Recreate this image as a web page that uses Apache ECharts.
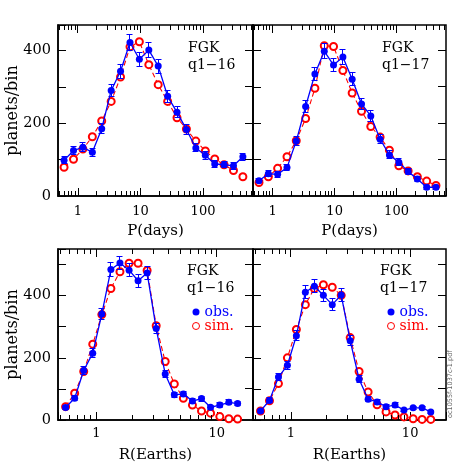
<!DOCTYPE html>
<html>
<head>
<meta charset="utf-8">
<script src="https://cdn.jsdelivr.net/npm/echarts@6/dist/echarts.min.js"></script>
<style>
html, body { margin: 0; padding: 0; background: #fff; }
#chart { width: 471px; height: 471px; }
</style>
</head>
<body>
<div id="chart"></div>
<script>
// bin centres
const periodBins = [0.6, 0.85, 1.2, 1.7, 2.4, 3.4, 4.8, 6.8, 9.6, 13.6, 19.2, 27.2, 38.4, 54.3, 76.8, 109, 154, 217, 307, 434];
const radiusBins = [0.555, 0.66, 0.785, 0.933, 1.11, 1.32, 1.57, 1.87, 2.22, 2.64, 3.14, 3.73, 4.44, 5.28, 6.28, 7.47, 8.88, 10.6, 12.6, 14.9];

// P, q1-16
const obsP16 = [98, 125, 134, 120, 185, 290, 343, 422, 376, 401, 357, 274, 230, 183, 132, 112, 88, 86, 83, 108];
const errP16 = [10, 11, 12, 11, 14, 17, 19, 21, 19, 20, 19, 17, 15, 14, 11, 11, 9, 9, 9, 10];
const simP16 = [79, 101, 129, 163, 206, 260, 327, 410, 424, 361, 306, 260, 215, 184, 151, 124, 102, 86, 70, 53];
// P, q1-17
const obsP17 = [42, 61, 60, 78, 151, 246, 335, 398, 360, 382, 321, 253, 220, 156, 113, 93, 67, 47, 24, 24];
const errP17 = [6, 8, 8, 9, 12, 16, 18, 20, 19, 20, 18, 16, 15, 12, 11, 10, 8, 7, 5, 5];
const simP17 = [37, 53, 76, 108, 152, 213, 296, 413, 411, 345, 283, 233, 191, 162, 126, 83, 69, 53, 41, 29];
// R, q1-16
const obsR16 = [40, 70, 159, 215, 341, 484, 505, 482, 448, 473, 294, 148, 81, 84, 61, 69, 41, 48, 57, 53];
const errR16 = [6, 8, 13, 15, 18, 22, 22, 22, 21, 22, 17, 12, 9, 9, 8, 8, 6, 7, 8, 7];
const simR16 = [43, 86, 156, 244, 339, 423, 477, 504, 504, 481, 303, 188, 116, 70, 48, 29, 22, 11, 4, 3];
// R, q1-17
const obsR17 = [29, 63, 138, 176, 271, 411, 430, 401, 371, 402, 255, 131, 67, 58, 43, 48, 32, 39, 39, 26];
const errR17 = [5, 8, 12, 13, 16, 20, 21, 20, 19, 20, 16, 11, 8, 8, 7, 7, 6, 6, 6, 5];
const simR17 = [29, 62, 117, 200, 291, 371, 423, 435, 427, 401, 265, 156, 90, 49, 26, 16, 10, 4, 2, 2];

// tick values
const periodMajor = [1, 10, 100];
const periodMinor = [0.5, 0.6, 0.7, 0.8, 0.9, 2, 3, 4, 5, 6, 7, 8, 9, 20, 30, 40, 50, 60, 70, 80, 90, 200, 300, 400, 500, 600];
const radiusMajor = [1, 10];
const radiusMinor = [0.5, 0.6, 0.7, 0.8, 0.9, 2, 3, 4, 5, 6, 7, 8, 9];
const countTicksTop = [100, 200, 300, 400];
const countTicksBottom = [100, 200, 300, 400, 500];

const BLUE = '#0000ff';
const RED = '#ff0000';
const FONT = 'DejaVu Serif';

const panels = [
  { grid: { left: 58, top: 25, width: 195, height: 171 }, x: periodBins, xMin: 0.48, xMax: 630, yMax: 470,
    obs: obsP16, err: errP16, sim: simP16, major: periodMajor, minor: periodMinor, yTicks: countTicksTop,
    xName: 'P(days)', yLabels: true, label: 'FGK\nq1\u221216', tx: 188, ty: 39.5, lm: 9 },
  { grid: { left: 253, top: 25, width: 193, height: 171 }, x: periodBins, xMin: 0.48, xMax: 630, yMax: 470,
    obs: obsP17, err: errP17, sim: simP17, major: periodMajor, minor: periodMinor, yTicks: countTicksTop,
    xName: 'P(days)', yLabels: false, label: 'FGK\nq1\u221217', tx: 382, ty: 39.5, lm: 9 },
  { grid: { left: 58, top: 249, width: 195, height: 171 }, x: radiusBins, xMin: 0.48, xMax: 20, yMax: 550,
    obs: obsR16, err: errR16, sim: simR16, major: radiusMajor, minor: radiusMinor, yTicks: countTicksBottom,
    xName: 'R(Earths)', yLabels: true, label: 'FGK\nq1\u221216', tx: 187, ty: 263, lm: 7 },
  { grid: { left: 253, top: 249, width: 193, height: 171 }, x: radiusBins, xMin: 0.48, xMax: 20, yMax: 550,
    obs: obsR17, err: errR17, sim: simR17, major: radiusMajor, minor: radiusMinor, yTicks: countTicksBottom,
    xName: 'R(Earths)', yLabels: false, label: 'FGK\nq1\u221217', tx: 380, ty: 263, lm: 7 }
];

// keep 1px strokes crisp
const snap = v => Math.round(v - 0.5) + 0.5;

function decadeLabel(v) {
  const l = Math.log10(v);
  if (Math.abs(l - Math.round(l)) > 1e-6) return '';
  return String(Math.round(Math.pow(10, Math.round(l))));
}

function errRender(params, api) {
  const x = api.value(0);
  const lo = api.coord([x, api.value(1)]);
  const hi = api.coord([x, api.value(2)]);
  const cx = snap(lo[0]);
  const w = 3;
  const st = { stroke: BLUE, lineWidth: 1 };
  return {
    type: 'group',
    children: [
      { type: 'line', shape: { x1: cx, y1: lo[1], x2: cx, y2: hi[1] }, style: st },
      { type: 'line', shape: { x1: cx - w, y1: snap(lo[1]), x2: cx + w, y2: snap(lo[1]) }, style: st },
      { type: 'line', shape: { x1: cx - w, y1: snap(hi[1]), x2: cx + w, y2: snap(hi[1]) }, style: st }
    ]
  };
}

// x ticks: [value, length, bottomToo]; top edge always, bottom edge for the minor ones
function xTickRender(yMax) {
  return function (params, api) {
    const v = api.value(0), len = api.value(1), both = api.value(2);
    const b = api.coord([v, 0]);
    const t = api.coord([v, yMax]);
    const x = snap(b[0]);
    const st = { stroke: '#000', lineWidth: 1 };
    const kids = [{ type: 'line', shape: { x1: x, y1: t[1], x2: x, y2: t[1] + len }, style: st }];
    if (both) kids.push({ type: 'line', shape: { x1: x, y1: b[1], x2: x, y2: b[1] - len }, style: st });
    return { type: 'group', children: kids };
  };
}

// y ticks on the right edge
function yTickRender(xMax) {
  return function (params, api) {
    const r = api.coord([xMax, api.value(1)]);
    const y = snap(r[1]);
    return {
      type: 'line', shape: { x1: r[0], y1: y, x2: r[0] - 8, y2: y },
      style: { stroke: '#000', lineWidth: 1 }
    };
  };
}

const grids = [], xAxes = [], yAxes = [], series = [], graphics = [];

panels.forEach((p, i) => {
  grids.push(Object.assign({
    outerBoundsMode: 'none', show: true, borderColor: '#000', borderWidth: 1.5, backgroundColor: 'transparent'
  }, p.grid));
  xAxes.push({
    type: 'log', logBase: 10, gridIndex: i, min: p.xMin, max: p.xMax, position: 'bottom',
    axisLine: { show: true, lineStyle: { color: '#000', width: 1.5 } }, splitLine: { show: false },
    axisTick: { inside: true, length: 8, lineStyle: { color: '#000', width: 1 } },
    axisLabel: { formatter: decadeLabel, fontFamily: FONT, fontSize: 13, color: '#000', margin: p.lm },
    name: p.xName, nameLocation: 'middle', nameGap: 28, nameMoveOverlap: false,
    nameTextStyle: { fontFamily: FONT, fontSize: 15, color: '#000' }
  });
  yAxes.push({
    type: 'value', gridIndex: i, min: 0, max: p.yMax, interval: 100, position: 'left',
    axisLine: { show: true, lineStyle: { color: '#000', width: 1.5 } }, splitLine: { show: false },
    axisTick: { inside: true, length: 8, lineStyle: { color: '#000', width: 1 } },
    axisLabel: {
      show: p.yLabels, fontFamily: FONT, fontSize: 14.5, color: '#000', margin: 7,
      formatter: v => (v % 200 === 0 && v <= 400) ? String(v) : ''
    },
    name: p.yLabels ? 'planets/bin' : '', nameLocation: 'middle', nameRotate: 90, nameGap: 37,
    nameMoveOverlap: false,
    nameTextStyle: { fontFamily: FONT, fontSize: 16, color: '#000' }
  });

  const tickData = p.major.map(v => [v, 8, 0]).concat(p.minor.map(v => [v, 5, 1]));
  series.push({
    type: 'custom', name: 'xticks' + i, xAxisIndex: i, yAxisIndex: i, silent: true,
    data: tickData, renderItem: xTickRender(p.yMax), z: 5
  });
  series.push({
    type: 'custom', name: 'yticks' + i, xAxisIndex: i, yAxisIndex: i, silent: true,
    data: p.yTicks.map(v => [p.xMax, v]), renderItem: yTickRender(p.xMax), z: 5
  });
  series.push({
    type: 'line', name: 'sim.', xAxisIndex: i, yAxisIndex: i,
    data: p.x.map((v, k) => [v, p.sim[k]]),
    symbol: 'emptyCircle', symbolSize: 7, showSymbol: true,
    itemStyle: { color: RED, borderWidth: 1.1 },
    lineStyle: { color: RED, width: 1.1, type: [5, 3] }, z: 2, animation: false
  });
  series.push({
    type: 'custom', name: 'err' + i, xAxisIndex: i, yAxisIndex: i, silent: true,
    data: p.x.map((v, k) => [v, p.obs[k] - p.err[k], p.obs[k] + p.err[k]]),
    encode: { x: 0, y: [1, 2] }, renderItem: errRender, z: 3
  });
  series.push({
    type: 'line', name: 'obs.', xAxisIndex: i, yAxisIndex: i,
    data: p.x.map((v, k) => [v, p.obs[k]]),
    symbol: 'circle', symbolSize: 7, showSymbol: true,
    itemStyle: { color: BLUE },
    lineStyle: { color: BLUE, width: 1.3 }, z: 4, animation: false
  });

  graphics.push({
    type: 'text', x: p.tx, y: p.ty, z: 10,
    style: { text: p.label, fontFamily: FONT, fontSize: 14, lineHeight: 17, fill: '#000' }
  });
});

graphics.push({
  type: 'text', x: 447, y: 418, rotation: Math.PI / 2, z: 10,
  style: { text: 'oc1055f-1037c-1.pdf', fontFamily: 'DejaVu Sans', fontSize: 6.5, fill: '#666' }
});

const legendItems = [
  { name: 'obs.', itemStyle: { color: BLUE }, textStyle: { color: BLUE } },
  { name: 'sim.', itemStyle: { color: '#fff', borderColor: RED, borderWidth: 1 }, textStyle: { color: RED } }
];
const legendBase = {
  orient: 'vertical', padding: 0, itemWidth: 7, itemHeight: 7, itemGap: 0, icon: 'circle',
  selectedMode: false, textStyle: { fontFamily: FONT, fontSize: 14, lineHeight: 14 },
  data: legendItems
};

const chart = echarts.init(document.getElementById('chart'), null, { renderer: 'canvas' });
chart.setOption({
  animation: false,
  backgroundColor: '#fff',
  grid: grids,
  xAxis: xAxes,
  yAxis: yAxes,
  legend: [
    Object.assign({}, legendBase, { left: 192, top: 305 }),
    Object.assign({}, legendBase, { left: 387, top: 305 })
  ],
  graphic: graphics,
  series: series
});
</script>
</body>
</html>
